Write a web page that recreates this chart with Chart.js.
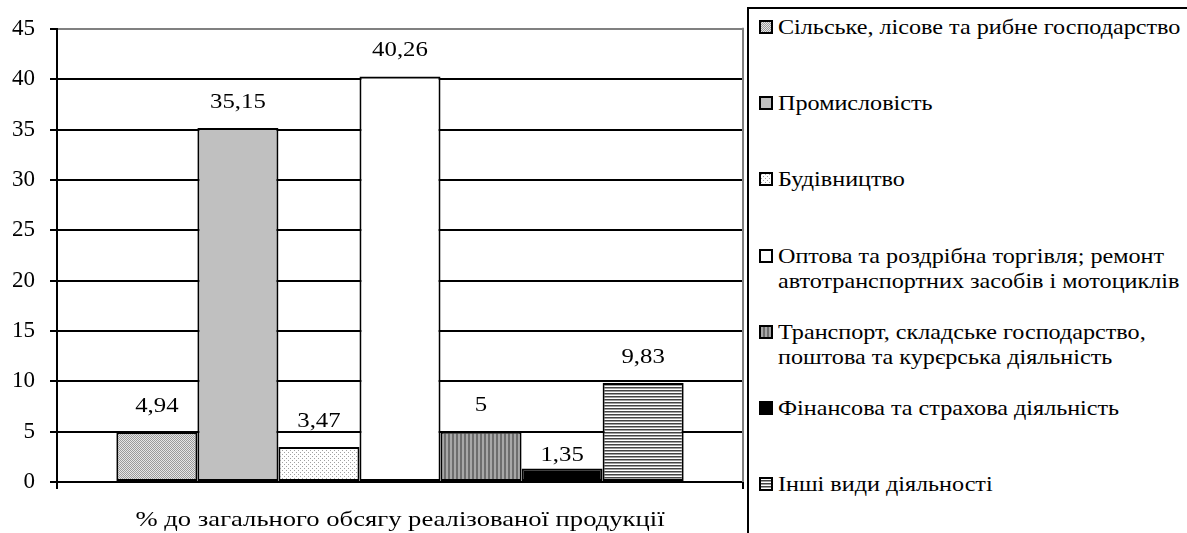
<!DOCTYPE html>
<html>
<head>
<meta charset="utf-8">
<script src="https://cdn.jsdelivr.net/npm/chart.js@4/dist/chart.umd.min.js"></script>
<style>
    body { margin: 0; background: #fff; width: 1187px; height: 533px; overflow: hidden; position: relative; font-family: "Times New Roman", Tinos, FreeSerif, serif; }
    #chart-wrap { position: absolute; left: 0; top: 0; width: 745px; height: 533px; }
    #legend { position: absolute; left: 747px; top: 7px; width: 460px; height: 560px; border: 2px solid #000; box-sizing: border-box; }
    .legend-item { position: absolute; left: 10px; font-size: 21px; line-height: 25px; color: #000; white-space: nowrap; }
    .legend-item canvas { position: absolute; left: 0; top: 5px; }
    .legend-item span { display: block; margin-left: 19px; transform: scaleX(1.15); transform-origin: 0 0; }
</style>
</head>
<body>
<div id="chart-wrap"><canvas id="chart"></canvas></div>
<div id="legend"></div>
<script>
const categories = [''];
const seriesNames = [
    'Сільське, лісове та рибне господарство',
    'Промисловість',
    'Будівництво',
    'Оптова та роздрібна торгівля; ремонт\nавтотранспортних засобів і мотоциклів',
    'Транспорт, складське господарство,\nпоштова та курєрська діяльність',
    'Фінансова та страхова діяльність',
    'Інші види діяльності',
];
const seriesValues = [4.94, 35.15, 3.47, 40.26, 5, 1.35, 9.83];
const yTicks = [0, 5, 10, 15, 20, 25, 30, 35, 40, 45];
const axisTitle = '% до загального обсягу реалізованої продукції';

const fontFamily = '"Times New Roman", Tinos, FreeSerif, serif';

function makePattern(w, h, draw) {
    const c = document.createElement('canvas');
    c.width = w;
    c.height = h;
    const g = c.getContext('2d');
    draw(g);
    return c;
}

// fills that imitate the Excel hatch patterns
const fillTiles = [
    makePattern(2, 2, g => {
        g.fillStyle = '#e6e6e6'; g.fillRect(0, 0, 2, 2);
        g.fillStyle = '#9a9a9a'; g.fillRect(0, 0, 1, 1); g.fillRect(1, 1, 1, 1);
    }),
    makePattern(1, 1, g => { g.fillStyle = '#c0c0c0'; g.fillRect(0, 0, 1, 1); }),
    makePattern(4, 4, g => {
        g.fillStyle = '#ffffff'; g.fillRect(0, 0, 4, 4);
        g.fillStyle = '#a0a0a0'; g.fillRect(0, 0, 1, 1); g.fillRect(2, 2, 1, 1);
    }),
    makePattern(1, 1, g => { g.fillStyle = '#ffffff'; g.fillRect(0, 0, 1, 1); }),
    makePattern(4, 1, g => {
        g.fillStyle = '#6e6e6e'; g.fillRect(0, 0, 2, 1);
        g.fillStyle = '#a8a8a8'; g.fillRect(2, 0, 2, 1);
    }),
    makePattern(1, 1, g => { g.fillStyle = '#000000'; g.fillRect(0, 0, 1, 1); }),
    makePattern(1, 3, g => {
        g.fillStyle = '#444444'; g.fillRect(0, 0, 1, 1);
        g.fillStyle = '#a0a0a0'; g.fillRect(0, 1, 1, 1);
        g.fillStyle = '#ffffff'; g.fillRect(0, 2, 1, 1);
    }),
];

const ctx = document.getElementById('chart').getContext('2d');
const fills = fillTiles.map(t => ctx.createPattern(t, 'repeat'));

const datasets = seriesNames.map((name, i) => ({
    label: name,
    data: [seriesValues[i]],
    backgroundColor: fills[i],
    borderColor: '#000',
    borderWidth: 2,
    borderSkipped: false,
}));

// text in the original is a bit wider than our serif, so stretch it a little
function stretchedText(c, text, x, y, size, sx) {
    c.save();
    c.font = size + 'px ' + fontFamily;
    c.fillStyle = '#000';
    c.textAlign = 'center';
    c.textBaseline = 'middle';
    c.translate(x, y);
    c.scale(sx, 1);
    c.fillText(text, 0, 0);
    c.restore();
}

const valueLabels = {
    id: 'valueLabels',
    afterDatasetsDraw(chart, args, opts) {
        chart.data.datasets.forEach((ds, i) => {
            const bar = chart.getDatasetMeta(i).data[0];
            const shift = (opts.shift && opts.shift[i]) || 0;
            const text = String(ds.data[0]).replace('.', ',');
            stretchedText(chart.ctx, text, bar.x, bar.y - 26 + shift, 21, 1.18);
        });
    }
};

const axisTitlePlugin = {
    id: 'axisTitlePlugin',
    afterDraw(chart) {
        const a = chart.chartArea;
        stretchedText(chart.ctx, axisTitle, (a.left + a.right) / 2, 520, 22, 1.21);
    }
};

const rightBorder = {
    id: 'rightBorder',
    beforeDatasetsDraw(chart) {
        const { ctx: c, chartArea: a } = chart;
        c.save();
        c.strokeStyle = '#808080';
        c.lineWidth = 2;
        c.beginPath();
        c.moveTo(a.right, a.top - 1);
        c.lineTo(a.right, a.bottom);
        c.stroke();
        c.restore();
    }
};

new Chart(ctx, {
    type: 'bar',
    data: { labels: categories, datasets },
    options: {
        responsive: true,
        maintainAspectRatio: false,
        animation: false,
        layout: { padding: { top: 24, right: 2, left: 0, bottom: 0 } },
        datasets: { bar: { categoryPercentage: 0.827, barPercentage: 1 } },
        scales: {
            x: {
                grid: { drawOnChartArea: false, tickLength: 7, tickColor: '#000', lineWidth: 2 },
                border: { color: '#000', width: 2 },
                ticks: { display: false },
                afterFit(scale) { scale.height = 51; },
            },
            y: {
                min: yTicks[0],
                max: yTicks[yTicks.length - 1],
                afterBuildTicks(scale) { scale.ticks = yTicks.map(v => ({ value: v })); },
                grid: {
                    color: c => c.tick && c.tick.value === 45 ? '#808080' : '#000',
                    tickColor: '#000',
                    lineWidth: 2,
                    tickLength: 7,
                },
                border: { color: '#000', width: 2 },
                ticks: {
                    color: '#000',
                    font: { family: fontFamily, size: 23 },
                    padding: 15,
                },
                afterFit(scale) { scale.width = 57; },
            },
        },
        plugins: {
            legend: { display: false },
            tooltip: { enabled: false },
            valueLabels: { shift: { 5: 13 } },
        },
    },
    plugins: [valueLabels, axisTitlePlugin, rightBorder],
});

// legend drawn as html so the two-line labels wrap like the original
const legend = document.getElementById('legend');
seriesNames.forEach((name, i) => {
    const item = document.createElement('div');
    item.className = 'legend-item';
    item.style.top = (6 + i * 76.2) + 'px';
    const mark = document.createElement('canvas');
    mark.width = 14;
    mark.height = 14;
    const mc = mark.getContext('2d');
    mc.fillStyle = mc.createPattern(fillTiles[i], 'repeat');
    mc.fillRect(0, 0, 14, 14);
    mc.strokeStyle = '#000';
    mc.lineWidth = 2;
    mc.strokeRect(1, 1, 12, 12);
    const label = document.createElement('span');
    label.innerHTML = name.split('\n').join('<br>');
    item.append(mark, label);
    legend.appendChild(item);
});
</script>
</body>
</html>
